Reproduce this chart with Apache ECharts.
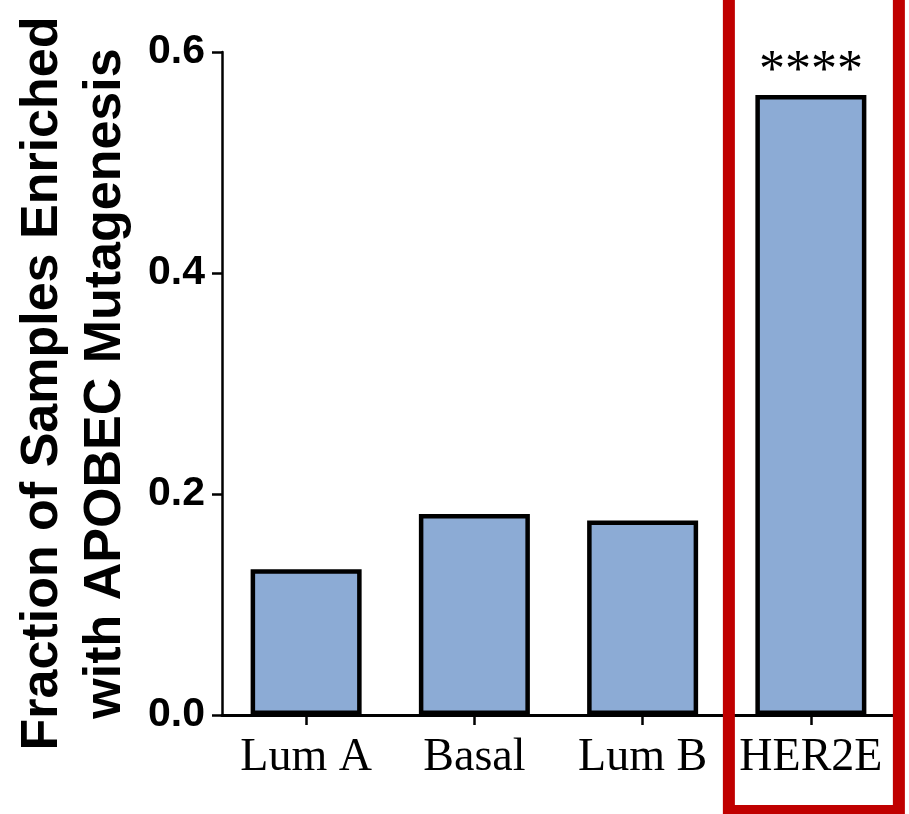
<!DOCTYPE html>
<html>
<head>
<meta charset="utf-8">
<script src="https://cdn.jsdelivr.net/npm/echarts@6/dist/echarts.min.js"></script>
<style>html,body{margin:0;padding:0;background:#fff}#c{width:909px;height:814px}</style>
</head>
<body>
<div id="c"></div>
<script>
const categories = ['Lum A', 'Basal', 'Lum B', 'HER2E'];
const values = [0.132, 0.182, 0.176, 0.561];
const significance = ['', '', '', '****'];
const yTicks = [0, 0.2, 0.4, 0.6];
const highlighted = 'HER2E';

const chart = echarts.init(document.getElementById('c'));
chart.setOption({
  animation: false,
  backgroundColor: '#ffffff',
  grid: { left: 222, right: 14, top: 52, bottom: 99, containLabel: false },
  xAxis: {
    type: 'category',
    data: categories,
    z: 10,
    axisLine: { lineStyle: { color: '#000', width: 3 } },
    axisTick: { show: true, alignWithLabel: true, interval: 0, length: 10, lineStyle: { color: '#000', width: 2.5 } },
    axisLabel: { interval: 0, hideOverlap: false, color: '#000', fontFamily: 'Liberation Serif', fontSize: 46, margin: 20 }
  },
  yAxis: {
    type: 'value',
    min: yTicks[0],
    max: yTicks[yTicks.length - 1],
    interval: 0.2,
    splitLine: { show: false },
    axisLine: { show: true, lineStyle: { color: '#000', width: 2.5 } },
    axisTick: { show: true, length: 10, lineStyle: { color: '#000', width: 2.5 } },
    axisLabel: { color: '#000', fontFamily: 'Liberation Sans', fontWeight: 'bold', fontSize: 41, margin: 17,
      formatter: v => v.toFixed(1) },
    name: 'Fraction of Samples Enriched\nwith APOBEC Mutagenesis',
    nameLocation: 'middle',
    nameRotate: 90,
    nameGap: 82,
    nameTextStyle: { color: '#000', fontFamily: 'Liberation Sans', fontWeight: 'bold', fontSize: 52, lineHeight: 63 }
  },
  series: [{
    type: 'bar',
    data: values,
    barWidth: 111,
    itemStyle: { color: '#8CABD5', borderColor: '#000', borderWidth: 4.5 },
    label: {
      show: true,
      position: 'top',
      distance: -3,
      color: '#000',
      fontFamily: 'Liberation Serif',
      fontSize: 52,
      formatter: p => significance[p.dataIndex]
    }
  }]
});

const cx = chart.convertToPixel({ xAxisIndex: 0 }, highlighted);
chart.setOption({
  graphic: [{
    type: 'rect',
    shape: { x: cx - 82, y: -20, width: 170, height: 831 },
    style: { fill: 'none', stroke: '#C00000', lineWidth: 12 },
    z: 100
  }]
});
</script>
</body>
</html>
